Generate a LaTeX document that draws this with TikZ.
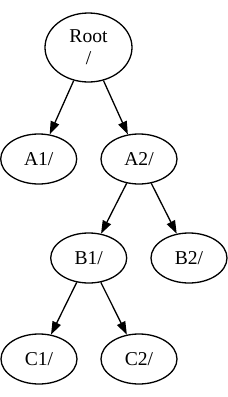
\documentclass[tikz,border=0pt]{standalone}
\usepackage{fontspec}
\setmainfont{Liberation Serif}
\usetikzlibrary{shapes.geometric,arrows.meta}
\begin{document}
\begin{tikzpicture}[x=1pt,y=1pt,
  tn/.style={draw,ellipse,line width=1.3pt,minimum width=76pt,minimum height=50pt,inner sep=0pt,
    font=\fontsize{19.6}{22}\selectfont,align=center},
  edge/.style={line width=1.3pt,-{Triangle[length=13pt,width=9pt]}}]
\useasboundingbox (0,0) rectangle (228,-397);
\node[tn,minimum width=87pt,minimum height=69pt] (root) at (88.5,-47.5) {Root\\/};
\node[tn] (a1) at (38.7,-159) {A1/};
\node[tn] (a2) at (139,-159) {A2/};
\node[tn] (b1) at (88.7,-258) {B1/};
\node[tn] (b2) at (189,-258) {B2/};
\node[tn] (c1) at (39,-359) {C1/};
\node[tn] (c2) at (139,-359) {C2/};
\draw[edge] (root) -- (a1);
\draw[edge] (root) -- (a2);
\draw[edge] (a2) -- (b1);
\draw[edge] (a2) -- (b2);
\draw[edge] (b1) -- (c1);
\draw[edge] (b1) -- (c2);
\end{tikzpicture}
\end{document}
